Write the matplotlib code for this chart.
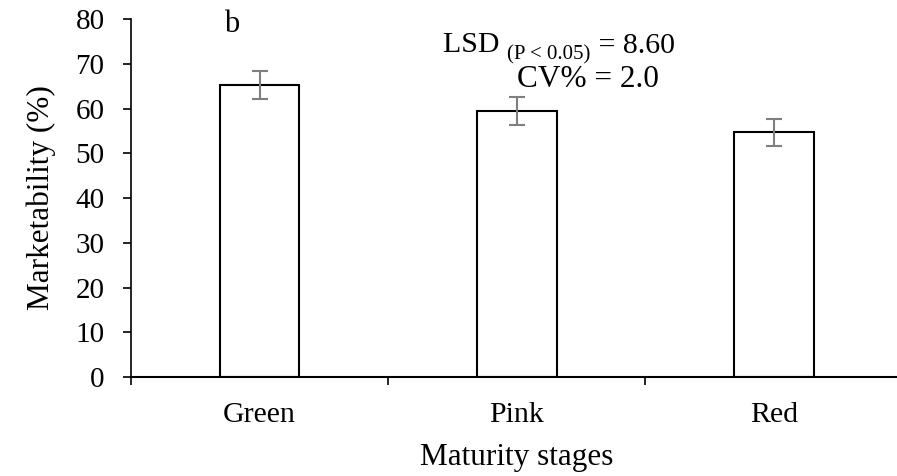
import matplotlib

matplotlib.use("Agg")

import matplotlib.pyplot as plt
from matplotlib.ticker import FixedLocator, MultipleLocator

# Dados do painel b: comercialização por estádio de maturação
estadios = ["Green", "Pink", "Red"]
comercializavel = [65.3, 59.5, 54.7]
erro_padrao = [3.1, 3.1, 3.0]

lsd = "8.60"
cv = "2.0"

plt.rcParams["font.family"] = ["Liberation Serif", "DejaVu Serif"]

fig = plt.figure(figsize=(8.97, 4.76), dpi=100)
ax = fig.add_axes([0.146, 0.208, 0.86, 0.752])

posicoes = list(range(len(estadios)))
ax.bar(
    posicoes,
    comercializavel,
    width=0.31,
    color="white",
    edgecolor="black",
    linewidth=1.5,
    zorder=2,
)
ax.errorbar(
    posicoes,
    comercializavel,
    yerr=erro_padrao,
    fmt="none",
    ecolor="#7f7f7f",
    elinewidth=1.5,
    capsize=6,
    capthick=1.5,
    zorder=3,
)

ax.set_xlim(-0.5, len(estadios) - 0.5)
ax.set_ylim(0, 80)
ax.yaxis.set_major_locator(MultipleLocator(10))

# rótulos centrados sem traço, traços nas divisões entre categorias
ax.set_xticks(posicoes)
ax.set_xticklabels(estadios, fontsize=21.5)
ax.tick_params(axis="x", which="major", length=0, pad=18)
ax.xaxis.set_minor_locator(FixedLocator([i - 0.5 for i in range(len(estadios) + 1)]))
ax.tick_params(axis="x", which="minor", length=6, width=1.2, direction="out")
ax.tick_params(axis="y", labelsize=21, length=6, width=1.2, direction="out", pad=13)

for lado in ["top", "right"]:
    ax.spines[lado].set_visible(False)
ax.spines["left"].set_linewidth(1.2)
ax.spines["bottom"].set_linewidth(1.5)

ax.set_ylabel("Marketability (%)", fontsize=22.5, labelpad=14)
ax.set_xlabel("Maturity stages", fontsize=22.5, labelpad=11)

ax.text(0.131, 0.985, "b", transform=ax.transAxes, fontsize=22, va="center", ha="center")

# LSD com subscrito montado em partes encadeadas
t_lsd = ax.text(0.405, 0.928, "LSD ", transform=ax.transAxes, fontsize=21.5,
                ha="left", va="center")
t_sub = ax.annotate("(P < 0.05)", xy=(1, 0), xycoords=t_lsd, fontsize=15,
                    ha="left", va="bottom", xytext=(0, -5), textcoords="offset points")
ax.annotate(" = " + lsd, xy=(1, 0), xycoords=t_sub, fontsize=21.5,
            ha="left", va="bottom", xytext=(0, 4), textcoords="offset points")
ax.text(
    0.592, 0.830,
    "CV% = " + cv,
    transform=ax.transAxes, fontsize=22.5, ha="center", va="center",
)

fig.savefig("out.png", dpi=100)
